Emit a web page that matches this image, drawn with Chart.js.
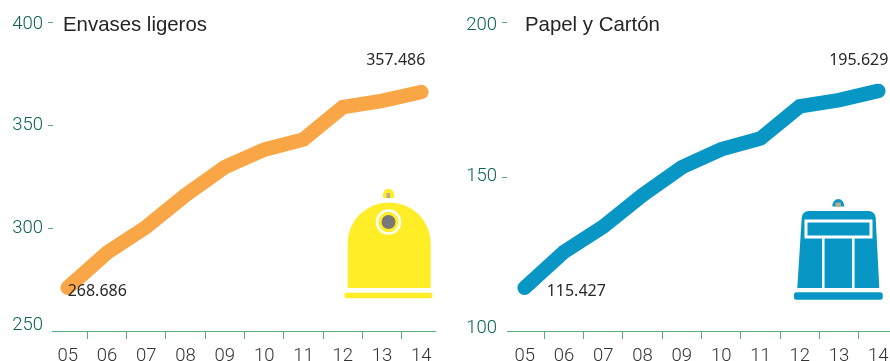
<!DOCTYPE html>
<html lang="es">
<head>
<meta charset="utf-8">
<title>Envases ligeros, Papel y Cartón</title>
<script src="https://cdn.jsdelivr.net/npm/chart.js@4"></script>
<style>
  html, body { margin: 0; padding: 0; background: #fff; }
  body { position: relative; width: 890px; height: 361px; overflow: hidden; }
  .panel { position: absolute; top: 0; height: 361px; }
  #left-panel { left: 0; width: 445px; }
  #right-panel { left: 445px; width: 460px; }
  #bins { position: absolute; left: 0; top: 0; }
</style>
</head>
<body>
<div class="panel" id="left-panel"><canvas id="envases-chart"></canvas></div>
<div class="panel" id="right-panel"><canvas id="papel-chart"></canvas></div>

<svg id="bins" width="890" height="361" viewBox="0 0 890 361">
  <path d="M383 198v-4a5.5 5 0 0 1 11 0v4z" fill="#ffed27"/>
  <rect x="386.5" y="193" width="3.5" height="5" fill="#b9ad8e"/>
  <path d="M347.7 288V243a41.5 40.5 0 0 1 83 0V288z" fill="#ffed27"/>
  <circle cx="388.5" cy="222" r="11.5" fill="#ffed27" stroke="#fff" stroke-width="2.5"/>
  <circle cx="388.5" cy="222" r="7" fill="#777"/>
  <rect x="344.5" y="292.7" width="88" height="5.5" rx="2.5" fill="#ffed27"/>

  <path d="M832.3 206.5a6 7.5 0 0 1 12 0z" fill="#0897c5"/>
  <rect x="835.5" y="202.5" width="5.5" height="4" fill="#b9ad8e"/>
  <path d="M797.3 288L801.7 218a7 7 0 0 1 7-7H868.7a7 7 0 0 1 7 7L879.3 288z" fill="#0897c5"/>
  <rect x="806" y="221" width="65" height="16" fill="#0897c5" stroke="#fff" stroke-width="3"/>
  <path d="M823.3 238V288M853.3 238V288" stroke="#fff" stroke-width="2.5"/>
  <rect x="794" y="292.3" width="88.7" height="7.4" rx="2.5" fill="#0897c5"/>
</svg>

<script>
const years = ['05', '06', '07', '08', '09', '10', '11', '12', '13', '14'];

const envasesValues = [271, 288, 300.5, 316, 329.6, 338, 343, 358.7, 361.7, 366];
const envasesTicks = [250, 300, 350, 400];
const envasesFirst = '268.686';
const envasesLast = '357.486';

const papelValues = [114, 125.6, 133.8, 144, 153, 158.8, 162.3, 172.7, 174.7, 177.7];
const papelTicks = [100, 150, 200];
const papelFirst = '115.427';
const papelLast = '195.629';

const GREEN_TEXT = '#0a6450';
const GREEN_LINE = '#58ab7a';
const TEXT_DARK = '#2a2728';

// tick marks, baseline, title and the two value labels
const panelDecor = {
  id: 'panelDecor',
  afterDraw(chart, args, opts) {
    const { ctx, scales: { y } } = chart;
    const base = y.getPixelForValue(y.min);

    ctx.save();
    ctx.strokeStyle = GREEN_LINE;
    ctx.lineWidth = 1;
    ctx.beginPath();
    ctx.moveTo(opts.baseFrom, base + 0.5);
    ctx.lineTo(opts.baseTo, base + 0.5);
    y.ticks.slice(1).forEach((t) => {
      const py = Math.round(y.getPixelForValue(t.value)) + 0.5;
      ctx.moveTo(opts.tickFrom, py);
      ctx.lineTo(opts.tickFrom + 5, py);
    });
    ctx.stroke();

    ctx.fillStyle = '#262425';
    ctx.font = '20.4px "Liberation Sans"';
    ctx.textBaseline = 'middle';
    ctx.textAlign = 'left';
    ctx.fillText(opts.title, opts.titleX, 25);

    const points = chart.getDatasetMeta(0).data;
    ctx.fillStyle = TEXT_DARK;
    ctx.font = '16px "Noto Sans"';
    ctx.fillText(opts.first, points[0].x + opts.firstDx, 291);
    ctx.textAlign = 'right';
    ctx.fillText(opts.last, points[9].x + opts.lastDx, 60);
    ctx.restore();
  },
};

function drawPanel(id, values, ticks, yLeft, areaRight, labelShift, decor) {
  const top = ticks[ticks.length - 1];
  return new Chart(document.getElementById(id), {
    type: 'line',
    data: {
      labels: years,
      datasets: [{
        data: values,
        borderColor: decor.color,
        borderWidth: 14.5,
        borderCapStyle: 'round',
        borderJoinStyle: 'miter',
        pointRadius: 0,
        tension: 0,
        clip: false,
      }],
    },
    plugins: [panelDecor],
    options: {
      responsive: true,
      maintainAspectRatio: false,
      animation: false,
      layout: { padding: { top: 22, right: areaRight, bottom: 0, left: 0 } },
      plugins: {
        legend: { display: false },
        tooltip: { enabled: false },
        panelDecor: decor,
      },
      scales: {
        x: {
          type: 'category',
          offset: true,
          afterFit: (scale) => { scale.height = 30; },
          border: { display: false },
          grid: {
            offset: true,
            drawOnChartArea: false,
            tickLength: 8,
            // the closing grid line has no tick, so no index either
            color: (c) => (c.index === 0 || c.index === undefined ? 'transparent' : GREEN_LINE),
          },
          ticks: {
            color: '#333',
            padding: 6,
            maxRotation: 0,
            autoSkip: false,
            font: { family: 'Roboto', weight: 300, size: 18.5 },
          },
        },
        y: {
          min: ticks[0],
          max: top,
          afterBuildTicks: (scale) => { scale.ticks = ticks.map((v) => ({ value: v })); },
          afterFit: (scale) => { scale.width = yLeft; },
          border: { display: false },
          grid: { display: false, drawTicks: false },
          ticks: {
            color: GREEN_TEXT,
            padding: decor.labelPad,
            // first and last labels sit off their tick, towards the plot
            callback: (v) => {
              if (v === ticks[0]) return [String(v), ''];
              if (v === top) return ['', String(v)];
              return String(v);
            },
            font: (c) => {
              let lineHeight = 1.2;
              if (c.index === 0) lineHeight = `${labelShift * 2}px`;
              if (c.index === ticks.length - 1) lineHeight = `${decor.topShift * 2}px`;
              return { family: 'Roboto', weight: 300, size: 18.5, lineHeight };
            },
          },
        },
      },
    },
  });
}

drawPanel('envases-chart', envasesValues, envasesTicks, 48, 4, 6, {
  color: '#f9a746',
  title: 'Envases ligeros',
  titleX: 63,
  first: envasesFirst,
  firstDx: 0,
  last: envasesLast,
  lastDx: 4,
  baseFrom: 52,
  baseTo: 436,
  tickFrom: 48,
  labelPad: 5,
  topShift: 2,
});

drawPanel('papel-chart', papelValues, papelTicks, 60, 7, 3, {
  color: '#0897c5',
  title: 'Papel y Cartón',
  titleX: 80,
  first: papelFirst,
  firstDx: 22,
  last: papelLast,
  lastDx: 10,
  baseFrom: 62,
  baseTo: 445,
  tickFrom: 57,
  labelPad: 8,
  topShift: 3,
});
</script>
</body>
</html>
